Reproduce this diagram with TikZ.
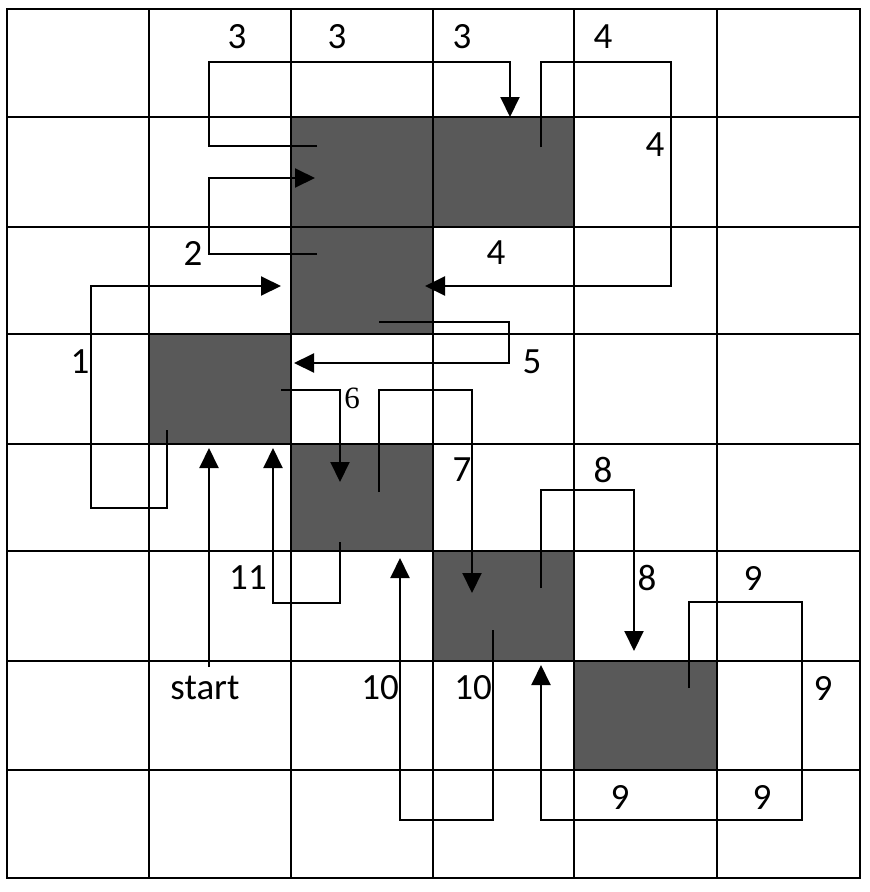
\documentclass[tikz,border=0pt]{standalone}
\usepackage{fontspec}
\setmainfont{Carlito}
\newfontfamily\sixfont{Liberation Serif}
\usetikzlibrary{arrows.meta}
\definecolor{blockgray}{RGB}{89,89,89}
\tikzstyle{gridline}=[line width=1.6pt,black,line cap=rect]
\tikzstyle{block}=[fill=blockgray]
\tikzstyle{route}=[line width=2pt,black]
\tikzstyle{routearrow}=[route,-{Triangle[length=20pt,width=19pt]}]
\tikzstyle{steplabel}=[inner sep=0pt,font=\fontsize{37}{40}\selectfont]

\begin{document}
\begin{tikzpicture}[x=1pt,y=-1pt]
    \useasboundingbox (0,0) rectangle (870,892);
    % blocked cells
    \foreach \xa/\ya/\xb/\yb in {291/117/433/227,433/117/574/227,291/227/433/334,149/334/291/444,291/444/433/551,433/551/574/661,574/661/717/770}
    \fill[block] (\xa,\ya) rectangle (\xb,\yb);
    % grid
    \foreach \x in {7,149,291,433,574,717,860}
    \draw[gridline] (\x,9) -- (\x,878);
    \foreach \y in {9,117,227,334,444,551,661,770,878}
    \draw[gridline] (7,\y) -- (860,\y);

    % route ends
    \coordinate (r1a) at (167,430);  \coordinate (r1b) at (281,286);
    \coordinate (r2a) at (317,254);  \coordinate (r2b) at (315,178);
    \coordinate (r3a) at (317,146);  \coordinate (r3b) at (510,117);
    \coordinate (r4a) at (541,147);  \coordinate (r4b) at (425,286);
    \coordinate (r5a) at (379,322);  \coordinate (r5b) at (294,363);
    \coordinate (r6a) at (281,390);  \coordinate (r6b) at (340,482);
    \coordinate (r7a) at (379,492);  \coordinate (r7b) at (472,593);
    \coordinate (r8a) at (541,588);  \coordinate (r8b) at (634,651);
    \coordinate (r9a) at (689,688);  \coordinate (r9b) at (541,665);
    \coordinate (r10a) at (493,630); \coordinate (r10b) at (400,558);
    \coordinate (r11a) at (340,542); \coordinate (r11b) at (273,448);
    \coordinate (s0) at (209,667);   \coordinate (s1) at (209,448);

    \draw[routearrow] (s0) -- (s1);
    \draw[routearrow] (r1a) |- (91,508) |- (r1b);
    \draw[routearrow] (r2a) -| (209,178) -- (r2b);
    \draw[routearrow] (r3a) -| (209,62) -| (r3b);
    \draw[routearrow] (r4a) |- (671,62) |- (r4b);
    \draw[routearrow] (r5a) -| (509,363) -- (r5b);
    \draw[routearrow] (r6a) -| (r6b);
    \draw[routearrow] (r7a) |- (472,390) -- (r7b);
    \draw[routearrow] (r8a) |- (634,490) -- (r8b);
    \draw[routearrow] (r9a) |- (802,602) |- (541,820) -- (r9b);
    \draw[routearrow] (r10a) |- (400,820) -- (r10b);
    \draw[routearrow] (r11a) |- (273,603) -- (r11b);

    % labels
    \foreach \n/\x/\y/\t in {l1/80/362/1,l2/193/253/2,l3a/237/37/3,l3b/337/37/3,l3c/462/37/3,
        l4a/603/37/4,l4b/655/145/4,l4c/496/253/4,l5/532/362/5,l7/462/470/7,
        l8a/603/470/8,l8b/647/578/8,l9a/753/578/9,l9b/823/688/9,l9c/620/797/9,l9d/762/797/9,
        l10a/380/688/10,l10b/473/688/10,l11/248/578/11,startlbl/205/688/start}
    \node[steplabel] (\n) at (\x,\y) {\t};
    \node[inner sep=0pt,font=\sixfont\fontsize{31}{34}\selectfont] (l6) at (352,398) {6};
\end{tikzpicture}
\end{document}
